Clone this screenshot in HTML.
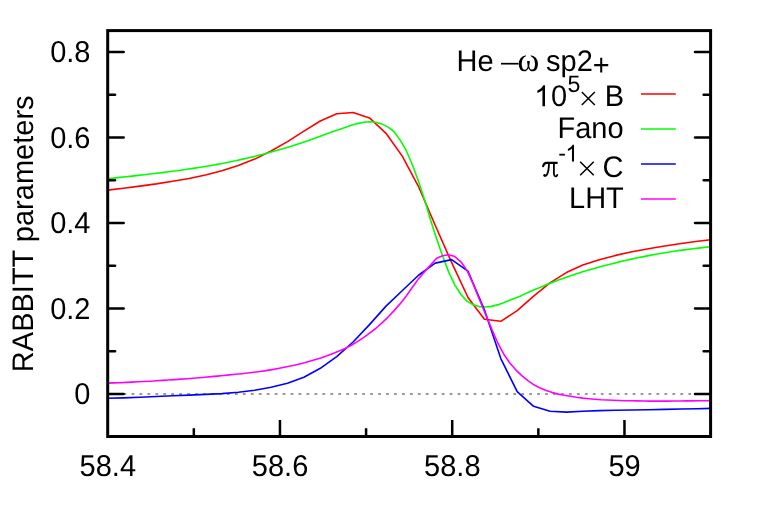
<!DOCTYPE html>
<html><head><meta charset="utf-8"><title>RABBITT parameters</title>
<style>
html,body{margin:0;padding:0;background:#fff;}
body{width:763px;height:530px;overflow:hidden;}
svg{display:block;will-change:transform;}
text{font-family:"Liberation Sans",sans-serif;font-size:29px;fill:#000;text-rendering:geometricPrecision;}
.sym{font-family:"Liberation Serif",serif;}
.c{fill:none;stroke-width:1.6;stroke-linejoin:round;stroke-linecap:butt;}
.t{stroke:#000;stroke-width:2.7;stroke-linecap:round;fill:none;}
</style></head><body>
<svg width="763" height="530" viewBox="0 0 763 530">
<rect width="763" height="530" fill="#fff"/>
<line x1="107.7" y1="394.0" x2="710.6" y2="394.0" stroke="#777" stroke-width="1.6" stroke-dasharray="2.7 5.254"/>
<path class="c" stroke="#ff0000" d="M107.7,190.1 L123.5,188.2 L139.9,186.1 L156.3,183.9 L172.7,181.3 L189.1,178.5 L205.5,175.0 L221.9,170.8 L238.3,165.6 L254.7,159.1 L271.1,151.0 L287.5,141.6 L303.9,131.1 L320.3,121.0 L336.7,113.8 L353.1,112.5 L369.5,117.9 L386.0,133.3 L402.4,156.4 L418.8,187.1 L435.2,225.3 L451.6,262.4 L468.0,297.5 L484.4,319.2 L500.8,321.3 L517.2,310.6 L533.6,296.1 L550.0,282.9 L566.4,272.6 L582.8,265.1 L599.2,259.8 L615.6,255.4 L632.0,251.8 L648.4,248.8 L664.8,246.0 L681.2,243.5 L697.6,241.3 L710.6,239.8"/>
<path class="c" stroke="#00ff00" d="M107.7,178.7 L113.8,178.1 L119.9,177.4 L126.0,176.8 L132.1,176.1 L138.1,175.4 L144.2,174.7 L150.3,174.0 L156.4,173.3 L162.5,172.6 L168.6,171.8 L174.7,171.0 L180.8,170.2 L186.9,169.3 L193.0,168.4 L199.0,167.5 L205.1,166.5 L211.2,165.5 L217.3,164.4 L223.4,163.2 L229.5,162.0 L235.6,160.8 L241.7,159.4 L247.8,158.0 L253.9,156.6 L259.9,155.0 L266.0,153.4 L272.1,151.8 L278.2,150.0 L284.3,148.3 L290.4,146.5 L296.5,144.5 L302.6,142.4 L308.7,140.4 L314.8,138.3 L320.8,136.1 L326.9,133.8 L333.0,131.6 L339.1,129.5 L345.2,127.4 L351.3,125.3 L357.4,123.6 L363.5,122.3 L369.6,121.7 L375.7,122.2 L381.7,123.9 L387.8,126.9 L393.9,131.5 L400.0,139.9 L406.1,150.2 L412.2,164.5 L418.3,180.8 L424.4,199.3 L430.5,219.8 L436.6,238.7 L442.6,256.0 L448.7,272.1 L454.8,284.9 L460.9,294.5 L467.0,301.1 L473.1,304.8 L479.2,306.6 L485.3,307.0 L491.4,306.4 L497.5,304.9 L503.5,302.8 L509.6,300.3 L515.7,297.9 L521.8,295.4 L527.9,292.5 L534.0,289.8 L540.1,287.4 L546.2,284.8 L552.3,282.4 L558.4,280.1 L564.4,277.9 L570.5,275.8 L576.6,273.7 L582.7,271.8 L588.8,270.1 L594.9,268.3 L601.0,266.6 L607.1,265.0 L613.2,263.4 L619.3,261.9 L625.3,260.5 L631.4,259.1 L637.5,257.8 L643.6,256.6 L649.7,255.4 L655.8,254.3 L661.9,253.2 L668.0,252.2 L674.1,251.3 L680.2,250.4 L686.2,249.6 L692.3,248.8 L698.4,248.1 L704.5,247.4 L710.6,246.8"/>
<path class="c" stroke="#0000ff" d="M107.7,398.3 L123.5,397.9 L139.9,397.3 L156.3,396.5 L172.7,395.8 L189.1,395.1 L205.5,394.4 L221.9,393.6 L238.3,392.2 L254.7,390.2 L271.1,387.3 L287.5,383.2 L303.9,377.2 L320.3,368.3 L336.7,356.7 L353.1,342.0 L369.5,324.6 L386.0,306.1 L402.4,290.5 L418.8,275.0 L435.2,263.1 L451.6,259.6 L468.0,271.2 L484.4,309.8 L500.8,358.6 L517.2,391.6 L533.6,406.3 L550.0,411.2 L566.4,412.1 L582.8,411.3 L599.2,410.6 L615.6,410.3 L632.0,410.0 L648.4,409.7 L664.8,409.4 L681.2,409.0 L697.6,408.7 L710.6,408.4"/>
<path class="c" stroke="#ff00ff" d="M107.7,383.1 L113.8,382.9 L119.9,382.7 L126.0,382.4 L132.1,382.1 L138.1,381.8 L144.2,381.5 L150.3,381.2 L156.4,380.8 L162.5,380.4 L168.6,380.0 L174.7,379.6 L180.8,379.1 L186.9,378.7 L193.0,378.2 L199.0,377.7 L205.1,377.2 L211.2,376.6 L217.3,376.1 L223.4,375.5 L229.5,374.9 L235.6,374.3 L241.7,373.7 L247.8,373.0 L253.9,372.3 L259.9,371.5 L266.0,370.6 L272.1,369.6 L278.2,368.5 L284.3,367.3 L290.4,366.0 L296.5,364.7 L302.6,363.3 L308.7,361.6 L314.8,359.8 L320.8,357.9 L326.9,355.8 L333.0,353.5 L339.1,351.1 L345.2,348.4 L351.3,345.2 L357.4,341.6 L363.5,337.6 L369.6,333.2 L375.7,328.5 L381.7,323.2 L387.8,317.3 L393.9,310.9 L400.0,303.9 L406.1,296.2 L412.2,287.5 L418.3,279.1 L424.4,271.9 L430.5,265.1 L436.6,258.3 L442.6,255.7 L448.7,254.8 L454.8,256.6 L460.9,261.8 L467.0,270.4 L473.1,283.9 L479.2,299.0 L485.3,313.8 L491.4,328.3 L497.5,342.3 L503.5,353.7 L509.6,362.7 L515.7,369.8 L521.8,375.7 L527.9,380.7 L534.0,384.8 L540.1,388.1 L546.2,390.6 L552.3,392.6 L558.4,394.1 L564.4,395.3 L570.5,396.3 L576.6,397.3 L582.7,398.1 L588.8,398.7 L594.9,399.2 L601.0,399.7 L607.1,400.0 L613.2,400.3 L619.3,400.5 L625.3,400.7 L631.4,400.8 L637.5,400.9 L643.6,401.0 L649.7,401.1 L655.8,401.1 L661.9,401.1 L668.0,401.1 L674.1,401.0 L680.2,401.0 L686.2,400.9 L692.3,400.9 L698.4,400.8 L704.5,400.7 L710.6,400.6"/>
<path class="t" style="stroke-linecap:butt;stroke-width:2.5" d="M279.96,436.5v-16.5M452.21,436.5v-16.5M624.47,436.5v-16.5M193.83,436.5v-8.3M366.09,436.5v-8.3M538.34,436.5v-8.3"/>
<path class="t" d="M108.30,394.00h15.3M710.00,394.00h-14.9M108.30,308.50h15.3M710.00,308.50h-14.9M108.30,223.00h15.3M710.00,223.00h-14.9M108.30,137.50h15.3M710.00,137.50h-14.9M108.30,52.00h15.3M710.00,52.00h-14.9M108.30,351.25h6.7M710.00,351.25h-6.3M108.30,265.75h6.7M710.00,265.75h-6.3M108.30,180.25h6.7M710.00,180.25h-6.3M108.30,94.75h6.7M710.00,94.75h-6.3"/>
<rect x="107.7" y="30.6" width="602.90" height="405.90" fill="none" stroke="#000" stroke-width="3"/>
<text transform="translate(90.5,404.00) scale(1,1.04)" text-anchor="end">0</text>
<text transform="translate(90.5,318.50) scale(1,1.04)" text-anchor="end">0.2</text>
<text transform="translate(90.5,233.00) scale(1,1.04)" text-anchor="end">0.4</text>
<text transform="translate(90.5,147.50) scale(1,1.04)" text-anchor="end">0.6</text>
<text transform="translate(90.5,62.00) scale(1,1.04)" text-anchor="end">0.8</text>
<text transform="translate(107.80,476.05) scale(1,1.04)" text-anchor="middle">58.4</text>
<text transform="translate(280.06,476.05) scale(1,1.04)" text-anchor="middle">58.6</text>
<text transform="translate(452.31,476.05) scale(1,1.04)" text-anchor="middle">58.8</text>
<text transform="translate(624.57,476.05) scale(1,1.04)" text-anchor="middle">59</text>
<text transform="translate(33.2,233.8) rotate(-90) scale(1,1.025)" text-anchor="middle">RABBITT parameters</text>
<text transform="translate(456.6,71.3) scale(1,1.025)">He</text>
<path d="M501.0,63.7H518.6" stroke="#000" stroke-width="1.7" fill="none"/>
<text transform="translate(517.6,71.3) scale(1,1.025)" style="font-size:33px" class="sym">ω</text>
<text transform="translate(546.0,71.3) scale(1,1.025)">sp2</text>
<text transform="translate(592.7,74.8) scale(1,1.025)">+</text>
<path d="M763,0H583V1147Q518,1085 412.5,1023Q307,961 223,930V1104Q374,1175 487,1276Q600,1377 647,1472H763Z" transform="translate(534.2,106.2) scale(0.014160,-0.014160)" fill="#000"/>
<text transform="translate(551.0,106.2) scale(1,1.025)">0</text>
<text transform="translate(567.6,91.9) scale(1,1.025)" style="font-size:23.2px">5</text>
<path d="M581.8,92.05L594.8,105.05M581.8,105.05L594.8,92.05" stroke="#000" stroke-width="1.5" fill="none"/>
<text transform="translate(604.8,106.2) scale(1,1.025)">B</text>
<text transform="translate(623.6,138.3) scale(1,1.025)" text-anchor="end">Fano</text>
<g fill="none" stroke="#000" stroke-linecap="round" stroke-linejoin="round"><path d="M543.1,166.3C543.7,164.2 544.7,162.9 546.4,162.9H556.8" stroke-width="2.1"/><path d="M549.0,163.2C548.9,167.5 548.4,171.5 547.2,174.2C546.6,175.5 545.6,176.2 544.6,175.8" stroke-width="1.8"/><path d="M553.9,163.2V173.2C553.9,175.6 555.0,176.6 556.2,176.3C556.8,176.1 557.1,175.5 557.3,174.8" stroke-width="1.8"/></g><circle cx="544.6" cy="175.3" r="1.25" fill="#000"/>
<text transform="translate(558.3,161.4) scale(1,1.025)" style="font-size:23.2px">-</text>
<path d="M763,0H583V1147Q518,1085 412.5,1023Q307,961 223,930V1104Q374,1175 487,1276Q600,1377 647,1472H763Z" transform="translate(565.36,161.5) scale(0.011328,-0.011328)" fill="#000"/>
<path d="M580.15,161.7L593.75,175.3M580.15,175.3L593.75,161.7" stroke="#000" stroke-width="1.5" fill="none"/>
<text transform="translate(602.6,176.6) scale(1,1.025)">C</text>
<text transform="translate(623.8,208.4) scale(1,1.025)" text-anchor="end">LHT</text>
<line x1="641.0" y1="94.0" x2="675.8" y2="94.0" stroke="#ff0000" stroke-width="1.6"/>
<line x1="641.0" y1="129.0" x2="675.8" y2="129.0" stroke="#00ff00" stroke-width="1.6"/>
<line x1="641.0" y1="164.0" x2="675.8" y2="164.0" stroke="#0000ff" stroke-width="1.6"/>
<line x1="641.0" y1="199.0" x2="675.8" y2="199.0" stroke="#ff00ff" stroke-width="1.6"/>
</svg>
</body></html>
